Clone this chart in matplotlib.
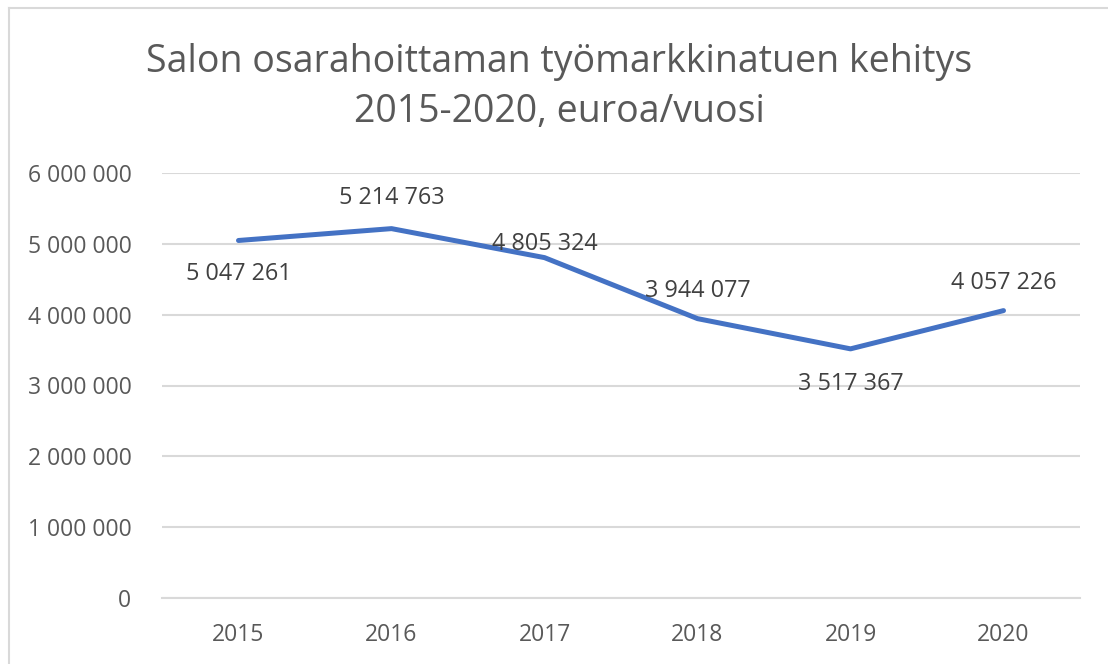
import matplotlib
matplotlib.use("Agg")
import matplotlib.pyplot as plt
from matplotlib.lines import Line2D

years = ["2015", "2016", "2017", "2018", "2019", "2020"]
values = [5047261, 5214763, 4805324, 3944077, 3517367, 4057226]
label_offsets = [-24, 22, 10, 20, -25, 20]  # points, vertical
yticks = [0, 1000000, 2000000, 3000000, 4000000, 5000000, 6000000]

def fmt(v):
    return f"{v:,}".replace(",", " ")

plt.rcParams['font.family'] = ['Open Sans', 'DejaVu Sans']

fig = plt.figure(figsize=(11.08, 6.64), dpi=100)
ax = fig.add_axes([162/1108, 1-598/664, (1080-162)/1108, (598-173)/664])

x = list(range(len(years)))
ax.plot(x, values, color="#4472C4", lw=3.6, solid_capstyle="round", solid_joinstyle="round", zorder=3)

for xi, v, off in zip(x, values, label_offsets):
    ax.annotate(fmt(v), (xi, v), xytext=(0, off), textcoords="offset points",
                ha="center", va="center", fontsize=16.8, color="#404040", zorder=4)

ax.set_xlim(-0.5, len(years) - 0.5)
ax.set_ylim(0, 6000000)
ax.set_yticks(yticks)
ax.set_yticklabels([fmt(t) for t in yticks])
ax.set_xticks(x)
ax.set_xticklabels(years)
ax.grid(axis="y", color="#D9D9D9", lw=1.5)
ax.set_axisbelow(True)
for s in ["top", "right", "left"]:
    ax.spines[s].set_visible(False)
ax.spines["bottom"].set_color("#D9D9D9")
ax.spines["bottom"].set_linewidth(1.5)
ax.tick_params(axis="both", length=0, labelsize=16.5, colors="#595959")
ax.tick_params(axis="y", pad=22)
ax.tick_params(axis="x", pad=18)

fig.text(0.505, 1-62/664, "Salon osarahoittaman työmarkkinatuen kehitys",
         ha="center", va="center", fontsize=27, color="#595959")
fig.text(0.505, 1-112/664, "2015-2020, euroa/vuosi",
         ha="center", va="center", fontsize=27, color="#595959")

# chart border (top and left visible)
fig.add_artist(Line2D([9/1108, 1.0], [1-8/664, 1-8/664], transform=fig.transFigure, color="#D9D9D9", lw=1.5))
fig.add_artist(Line2D([9/1108, 9/1108], [0, 1-8/664], transform=fig.transFigure, color="#D9D9D9", lw=1.5))

fig.savefig("out.png", dpi=100)
